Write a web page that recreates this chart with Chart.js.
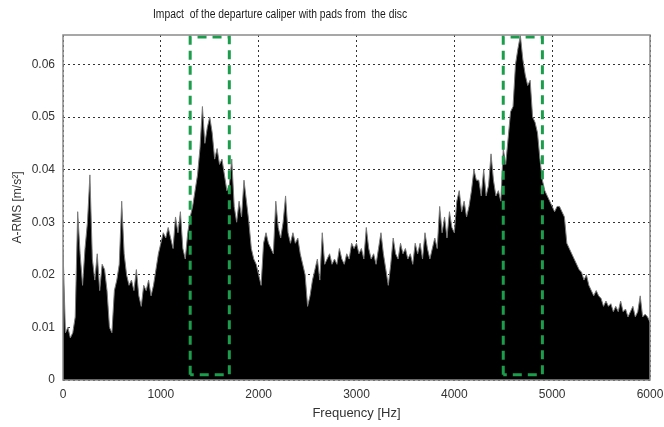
<!DOCTYPE html>
<html>
<head>
<meta charset="utf-8">
<script src="https://cdn.jsdelivr.net/npm/chart.js@4"></script>
<style>
  html, body { margin: 0; padding: 0; background: #fff; }
  canvas { display: block; }
</style>
</head>
<body>
<canvas id="chart" width="664" height="427"></canvas>
<script>
const freqStep = 25;
const amplitude = [
  0.025, 0.009, 0.010, 0.008,   0.009, 0.012, 0.032, 0.024,   // 0-175
  0.018, 0.025, 0.030, 0.039,   0.023, 0.019, 0.024, 0.017,   // 200-375
  0.022, 0.021, 0.017, 0.010,   0.009, 0.017, 0.019, 0.022,   // 400-575
  0.034, 0.024, 0.020, 0.018,   0.019, 0.017, 0.021, 0.016,   // 600-775
  0.014, 0.018, 0.017, 0.019,   0.016, 0.018, 0.021, 0.024,   // 800-975
  0.026, 0.028, 0.027, 0.029,   0.027, 0.025, 0.031, 0.028,   // 1000-1175
  0.032, 0.025, 0.023, 0.028,   0.031, 0.033, 0.036, 0.039,   // 1200-1375
  0.044, 0.052, 0.045, 0.048,   0.050, 0.047, 0.042, 0.044,   // 1400-1575
  0.041, 0.042, 0.039, 0.036,   0.037, 0.042, 0.033, 0.030,   // 1600-1775
  0.034, 0.031, 0.038, 0.034,   0.030, 0.025, 0.023, 0.022,   // 1800-1975
  0.020, 0.018, 0.026, 0.028,   0.026, 0.025, 0.024, 0.034,   // 2000-2175
  0.029, 0.027, 0.030, 0.035,   0.028, 0.026, 0.028, 0.026,   // 2200-2375
  0.027, 0.024, 0.022, 0.020,   0.014, 0.016, 0.019, 0.021,   // 2400-2575
  0.023, 0.019, 0.028, 0.022,   0.023, 0.024, 0.022, 0.023,   // 2600-2775
  0.022, 0.025, 0.023, 0.022,   0.024, 0.023, 0.026, 0.025,   // 2800-2975
  0.026, 0.024, 0.025, 0.023,   0.029, 0.025, 0.023, 0.024,   // 3000-3175
  0.022, 0.025, 0.028, 0.024,   0.021, 0.018, 0.022, 0.027,   // 3200-3375
  0.024, 0.023, 0.026, 0.024,   0.025, 0.023, 0.024, 0.022,   // 3400-3575
  0.026, 0.024, 0.026, 0.023,   0.028, 0.025, 0.023, 0.025,   // 3600-3775
  0.027, 0.025, 0.033, 0.028,   0.031, 0.027, 0.032, 0.029,   // 3800-3975
  0.028, 0.034, 0.036, 0.032,   0.034, 0.031, 0.033, 0.036,   // 4000-4175
  0.040, 0.038, 0.038, 0.035,   0.040, 0.035, 0.037, 0.043,   // 4200-4375
  0.038, 0.035, 0.036, 0.034,   0.044, 0.041, 0.046, 0.051,   // 4400-4575
  0.052, 0.060, 0.063, 0.0655,  0.061, 0.058, 0.056, 0.057,   // 4600-4775
  0.050, 0.049, 0.047, 0.042,   0.038, 0.036, 0.035, 0.034,   // 4800-4975
  0.033, 0.032, 0.033, 0.033,   0.032, 0.031, 0.026, 0.025,   // 5000-5175
  0.024, 0.023, 0.022, 0.021,   0.0205, 0.019, 0.020, 0.018,  // 5200-5375
  0.017, 0.016, 0.017, 0.016,   0.0155, 0.014, 0.015, 0.014,  // 5400-5575
  0.0145, 0.013, 0.014, 0.013,  0.015, 0.013, 0.0135, 0.012,  // 5600-5775
  0.013, 0.014, 0.012, 0.013,   0.016, 0.012, 0.0125, 0.012,  // 5800-5975
  0.011                                                       // 6000
];

// highlighted frequency bands (dashed green boxes)
const bandStart = [1300, 4500];
const bandEnd = [1700, 4900];
const bandBottom = 0.001;
const bandTop = 0.0652;

const xTicks = [0, 1000, 2000, 3000, 4000, 5000, 6000];
const yTicks = [0, 0.01, 0.02, 0.03, 0.04, 0.05, 0.06];

const spectrum = amplitude.map((v, i) => ({ x: i * freqStep, y: v }));

const bandSets = bandStart.map((f0, i) => ({
  data: [
    { x: f0, y: bandBottom }, { x: f0, y: bandTop },
    { x: bandEnd[i], y: bandTop }, { x: bandEnd[i], y: bandBottom },
    { x: f0, y: bandBottom }
  ],
  borderColor: '#1b9e4b',
  borderWidth: 3,
  borderDash: [9, 6],
  pointRadius: 0,
  fill: false,
  order: 0
}));

// title + plot frame
const frame = {
  id: 'frame',
  afterDraw(chart) {
    const { ctx, chartArea: a } = chart;
    ctx.save();
    ctx.strokeStyle = '#8a8a8a';
    ctx.lineWidth = 1.5;
    ctx.strokeRect(a.left, a.top, a.right - a.left, a.bottom - a.top);
    ctx.fillStyle = '#1a1a1a';
    ctx.font = '12px "Liberation Sans", Arial, sans-serif';
    ctx.textAlign = 'center';
    ctx.textBaseline = 'middle';
    ctx.translate(280, 15);
    ctx.scale(0.86, 1);
    ctx.fillText('Impact  of the departure caliper with pads from  the disc', 0, 0);
    ctx.restore();
  }
};

const tickFont = { family: '"Liberation Sans", Arial, sans-serif', size: 12 };

new Chart(document.getElementById('chart'), {
  type: 'line',
  data: {
    datasets: [
      {
        data: spectrum,
        borderColor: '#7a7a7a',
        borderWidth: 1,
        backgroundColor: '#000',
        fill: 'origin',
        pointRadius: 0,
        tension: 0,
        order: 1
      },
      ...bandSets
    ]
  },
  options: {
    responsive: false,
    animation: false,
    layout: { padding: { top: 35, right: 14, bottom: 0, left: 0 } },
    plugins: { legend: { display: false }, tooltip: { enabled: false } },
    scales: {
      x: {
        type: 'linear',
        min: 0,
        max: 6000,
        afterBuildTicks: s => { s.ticks = xTicks.map(v => ({ value: v })); },
        afterFit: s => { s.height = 47; s.paddingLeft = 0; s.paddingRight = 0; },
        grid: { color: '#333', lineWidth: 1, drawTicks: false },
        border: { display: false, dash: [2, 3] },
        ticks: {
          color: '#333',
          font: tickFont,
          padding: 7,
          maxRotation: 0,
          callback: v => String(v)
        },
        title: {
          display: true,
          text: 'Frequency [Hz]',
          color: '#333',
          font: { family: '"Liberation Sans", Arial, sans-serif', size: 13 },
          padding: { top: 0, bottom: 6 }
        }
      },
      y: {
        min: 0,
        max: 0.0656,
        afterBuildTicks: s => { s.ticks = yTicks.map(v => ({ value: v })); },
        afterFit: s => { s.width = 63; s.paddingTop = 0; s.paddingBottom = 0; },
        grid: { color: '#333', lineWidth: 1, drawTicks: false },
        border: { display: false, dash: [2, 3] },
        ticks: {
          color: '#333',
          font: tickFont,
          padding: 8,
          callback: v => v === 0 ? '0' : v.toFixed(2)
        },
        title: {
          display: true,
          text: 'A-RMS [m/s²]',
          color: '#333',
          font: { family: '"Liberation Sans", Arial, sans-serif', size: 12 },
          padding: { top: 10, bottom: 0 }
        }
      }
    }
  },
  plugins: [frame]
});
</script>
</body>
</html>
